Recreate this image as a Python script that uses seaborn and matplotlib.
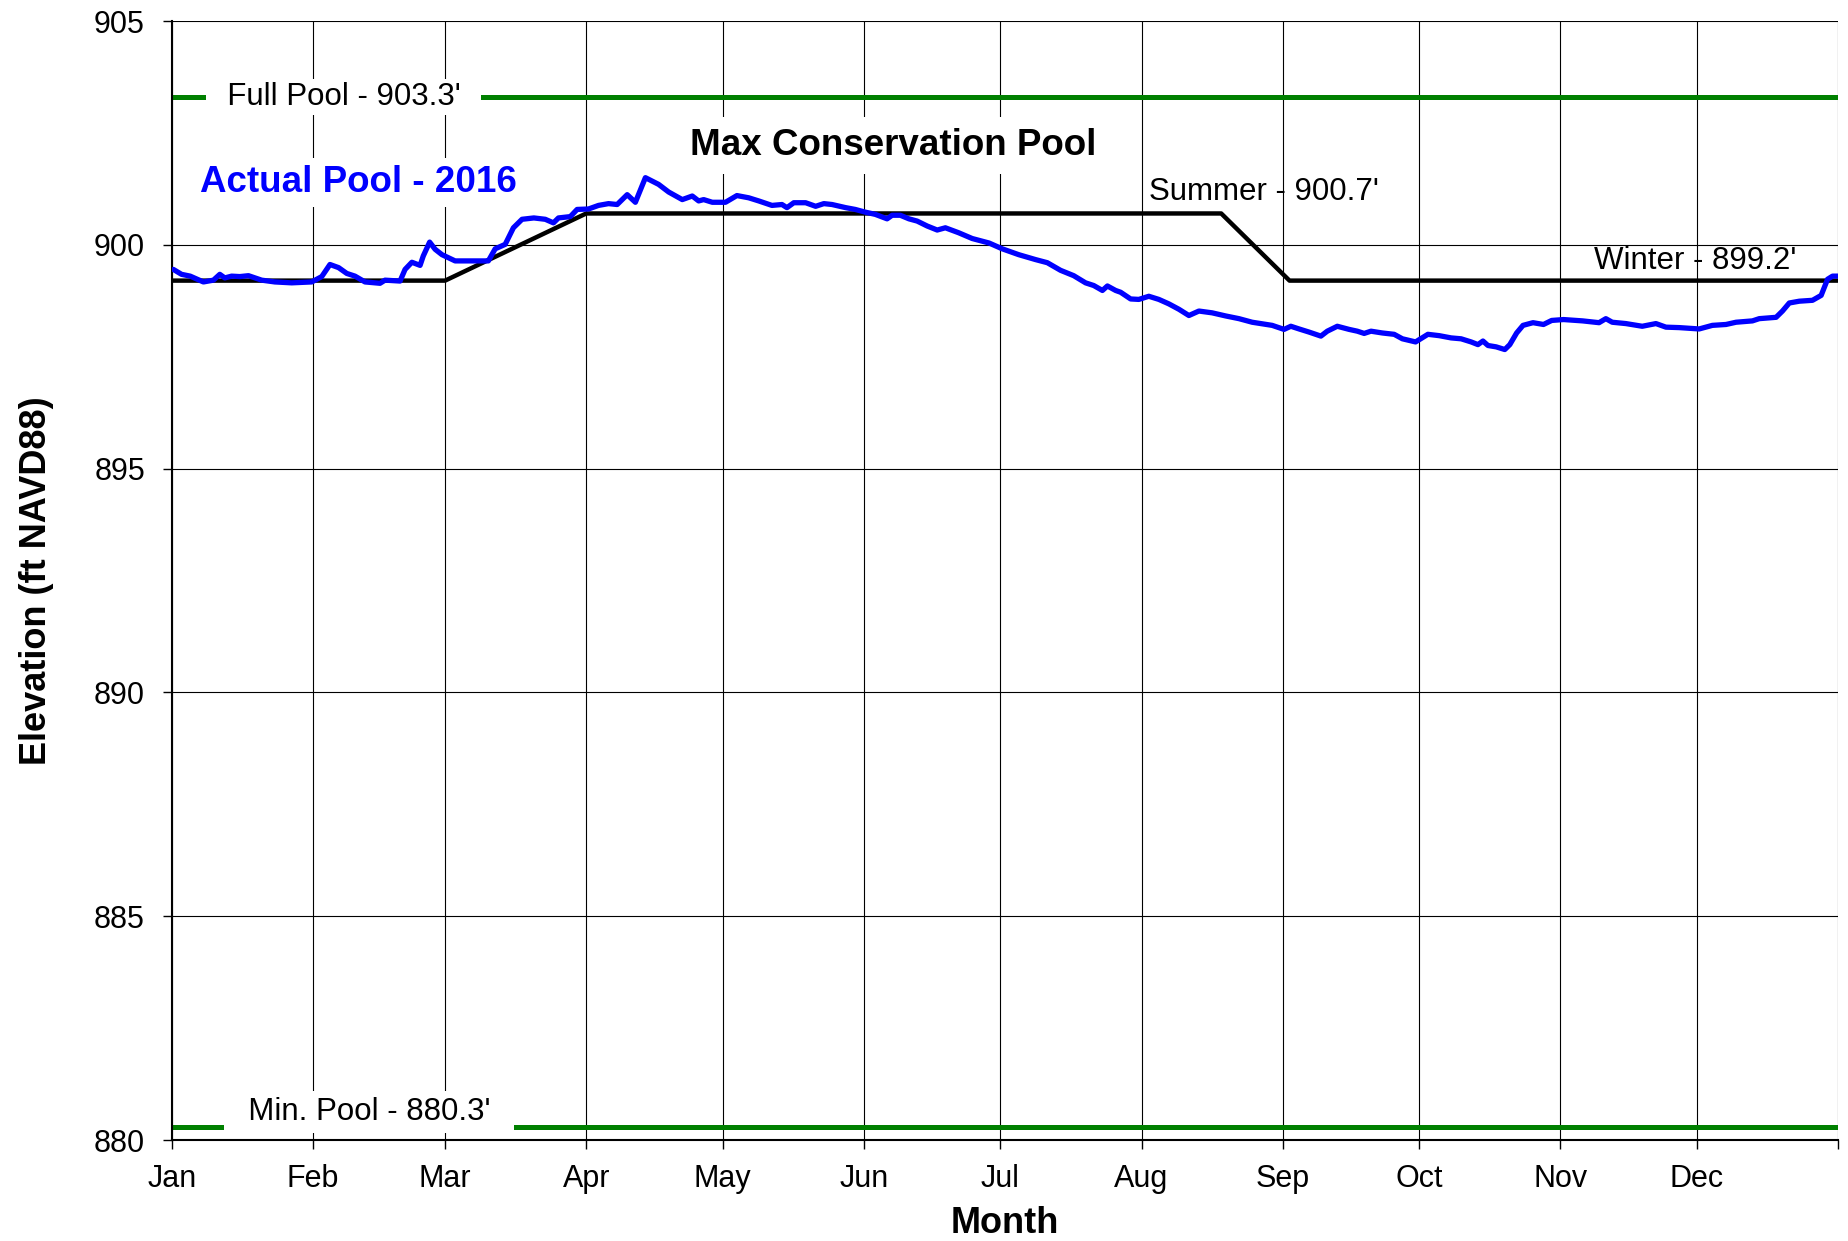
import pandas as pd
import seaborn as sns
import matplotlib.pyplot as plt

# day of year (2016) and pool elevation
days = [0.3, 2.1, 4.0, 6.9, 9.1, 10.5, 11.6, 13.1, 14.9, 16.8, 19.7, 22.6, 26.3, 30.7,
        32.9, 34.7, 36.6, 38.4, 40.2, 42.4, 45.7, 46.8, 50.1, 51.2, 52.7, 54.5, 55.2,
        56.6, 57.8, 59.3, 62.2, 65.9, 69.5, 71.0, 73.2, 75.0, 76.9, 79.5, 82.0, 83.8,
        84.9, 87.5, 89.0, 91.5, 93.7, 95.9, 97.8, 100.0, 101.8, 104.0, 106.9, 109.1,
        112.1, 114.3, 115.7, 116.8, 118.7, 121.6, 124.1, 126.7, 128.9, 131.8, 134.0,
        135.1, 136.6, 139.2, 141.4, 143.2, 145.0, 148.0, 150.1, 152.3, 154.5, 157.1,
        158.2, 160.0, 161.9, 163.7, 165.9, 168.1, 169.9, 172.8, 175.8, 179.5, 182.4,
        186.0, 189.7, 192.3, 195.2, 198.1, 200.7, 202.5, 204.4, 205.5, 207.3, 208.4,
        210.6, 212.4, 214.6, 216.8, 219.0, 221.2, 223.4, 225.6, 228.5, 231.5, 234.4,
        237.3, 241.7, 244.3, 245.8, 247.6, 249.8, 252.4, 253.8, 256.0, 258.6, 260.4,
        261.9, 263.4, 265.9, 268.5, 270.3, 273.2, 275.9, 278.4, 281.0, 283.2, 285.4,
        286.9, 288.0, 289.1, 290.9, 292.8, 293.9, 295.4, 296.8, 299.0, 301.3, 303.1,
        305.7, 309.9, 313.5, 315.0, 316.4, 319.4, 323.0, 326.0, 328.2, 331.1, 335.5,
        338.4, 341.4, 343.6, 347.2, 348.7, 352.4, 353.8, 355.3, 357.5, 360.4, 362.3,
        363.7, 364.8, 366.0]
elevation = [899.45, 899.34, 899.30, 899.17, 899.21, 899.34, 899.26, 899.30, 899.29,
             899.31, 899.21, 899.17, 899.15, 899.17, 899.29, 899.56, 899.49, 899.36,
             899.30, 899.17, 899.14, 899.21, 899.19, 899.45, 899.61, 899.54, 899.75,
             900.06, 899.90, 899.78, 899.64, 899.64, 899.64, 899.91, 900.01, 900.38,
             900.57, 900.60, 900.57, 900.49, 900.60, 900.63, 900.79, 900.80, 900.88,
             900.92, 900.90, 901.12, 900.95, 901.50, 901.35, 901.18, 901.01, 901.09,
             900.98, 901.01, 900.95, 900.95, 901.10, 901.05, 900.98, 900.88, 900.90,
             900.83, 900.94, 900.94, 900.86, 900.92, 900.90, 900.83, 900.79, 900.73,
             900.68, 900.58, 900.66, 900.66, 900.58, 900.53, 900.42, 900.33, 900.38,
             900.27, 900.14, 900.04, 899.91, 899.78, 899.67, 899.60, 899.43, 899.31,
             899.15, 899.09, 898.98, 899.08, 898.98, 898.94, 898.79, 898.78, 898.85,
             898.78, 898.68, 898.56, 898.42, 898.52, 898.48, 898.41, 898.35, 898.27,
             898.20, 898.11, 898.18, 898.12, 898.05, 897.96, 898.07, 898.18, 898.11,
             898.07, 898.02, 898.07, 898.03, 898.00, 897.90, 897.83, 898.00, 897.97,
             897.92, 897.90, 897.83, 897.77, 897.85, 897.75, 897.72, 897.66, 897.77,
             898.03, 898.20, 898.26, 898.22, 898.31, 898.33, 898.30, 898.26, 898.35,
             898.27, 898.24, 898.18, 898.24, 898.16, 898.15, 898.12, 898.20, 898.22,
             898.27, 898.30, 898.35, 898.38, 898.52, 898.70, 898.74, 898.76, 898.87,
             899.23, 899.30, 899.30]

# max conservation pool rule curve
rule_days = [0, 60, 91, 230.5, 245.5, 366]
rule_elev = [899.2, 899.2, 900.7, 900.7, 899.2, 899.2]

full_pool = 903.3
min_pool = 880.3

month_starts = [0, 31, 60, 91, 121, 152, 182, 213, 244, 274, 305, 335, 366]
month_names = ["Jan", "Feb", "Mar", "Apr", "May", "Jun", "Jul", "Aug", "Sep",
               "Oct", "Nov", "Dec", ""]

sns.set_style("white")
plt.rcParams['font.family'] = ['Liberation Sans', 'DejaVu Sans']
plt.rcParams['text.color'] = 'black'
plt.rcParams['axes.labelcolor'] = 'black'

fig = plt.figure(figsize=(18.49, 12.41), dpi=100)
ax = fig.add_axes([172 / 1849, 1 - 1140 / 1241, 1666 / 1849, 1119 / 1241])

actual = pd.DataFrame({"day": days, "elev": elevation})
rule = pd.DataFrame({"day": rule_days, "elev": rule_elev})

ax.axhline(full_pool, color="#008000", lw=3.6, zorder=2)
ax.axhline(min_pool, color="#008000", lw=3.6, zorder=2)
sns.lineplot(data=rule, x="day", y="elev", ax=ax, color="black", lw=3.2, zorder=3)
sns.lineplot(data=actual, x="day", y="elev", ax=ax, color="#0000ff", lw=3.8, zorder=4)

ax.set_xlim(0, 366)
ax.set_ylim(880, 905)
ax.set_xticks(month_starts)
ax.set_xticklabels(month_names)
ax.set_yticks(range(880, 906, 5))
ax.grid(True, color="black", lw=0.8, zorder=1)
ax.set_axisbelow(True)

for s in ["top", "right"]:
    ax.spines[s].set_visible(False)
for s in ["left", "bottom"]:
    ax.spines[s].set_color("black")
    ax.spines[s].set_linewidth(1.5)

ax.tick_params(axis="both", direction="out", length=6.5, width=1, color="black",
               labelsize=22, labelcolor="black")
ax.tick_params(axis="x", pad=10.5)
ax.tick_params(axis="y", pad=13)
ax.tick_params(bottom=True, left=True)

ax.set_xlabel("Month", fontsize=26, fontweight="bold")
ax.set_ylabel("Elevation (ft NAVD88)", fontsize=26, fontweight="bold")
ax.xaxis.set_label_coords(0.5, -0.059)
ax.yaxis.set_label_coords(-0.071, 0.5)

ax.text(37.7, full_pool, "  Full Pool - 903.3'  ", fontsize=22.5, ha="center",
        va="center", zorder=5,
        bbox=dict(facecolor="white", edgecolor="none", boxstyle="square,pad=0.1"))
ax.text(43.3, min_pool + 0.33, "  Min. Pool - 880.3'  ", fontsize=22.5, ha="center",
        va="center", zorder=5,
        bbox=dict(facecolor="white", edgecolor="none", boxstyle="square,pad=0.2"))
ax.text(158.4, 902.22, "Max Conservation Pool", fontsize=26.5, fontweight="bold",
        ha="center", va="center", zorder=5,
        bbox=dict(facecolor="white", edgecolor="none", boxstyle="square,pad=0.3"))
ax.text(41.0, 901.39, "Actual Pool - 2016", fontsize=26.5, fontweight="bold",
        color="#0000ff", ha="center", va="center", zorder=5,
        bbox=dict(facecolor="white", edgecolor="none", boxstyle="square,pad=0.2"))
ax.text(239.8, 901.17, "Summer - 900.7'", fontsize=22.5, ha="center", va="center",
        zorder=5)
ax.text(334.7, 899.63, "Winter - 899.2'", fontsize=22.5, ha="center", va="center",
        zorder=5)

fig.savefig("out.png", dpi=100)
